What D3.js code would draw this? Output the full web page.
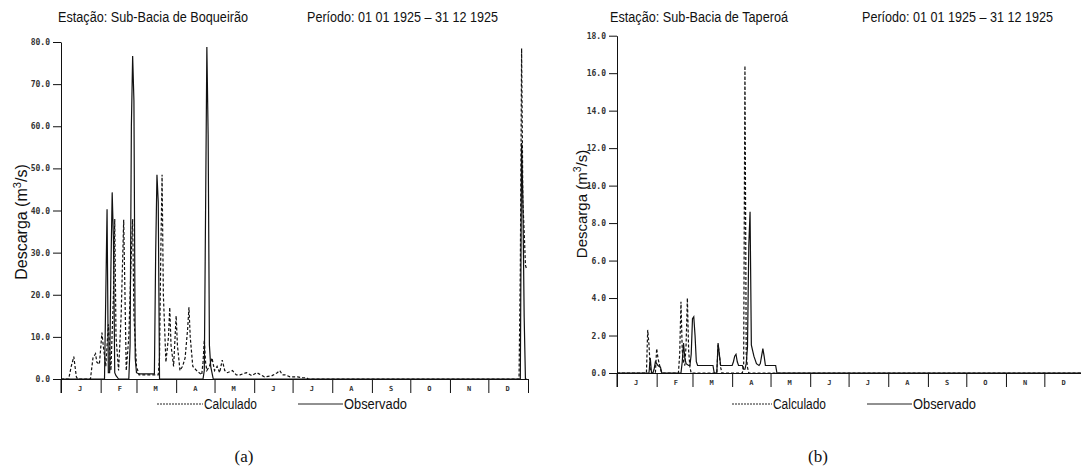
<!DOCTYPE html>
<html>
<head>
<meta charset="utf-8">
<script src="https://cdn.jsdelivr.net/npm/d3@7"></script>
<style>
  body { margin: 0; background: #fff; }
  svg text { fill: #111; }
</style>
</head>
<body>
<svg id="chart" width="1081" height="472"></svg>
<script>
// month labels
const months = ['J', 'F', 'M', 'A', 'M', 'J', 'J', 'A', 'S', 'O', 'N', 'D'];
const periodo = 'Período: 01 01 1925 – 31 12 1925';

// (a) Sub-Bacia de Boqueirão: [dia do ano, descarga m3/s]
const boqTicks = [0, 10, 20, 30, 40, 50, 60, 70, 80];
const boqCalc = [
  [1,0],[7,0],[9,3],[11,5.3],[13,0.5],[14,0],[24,0],[26,5],[28,6],[29,4],[31,3.5],[33,11],[34,8],
  [36,3],[38,13],[40,2],[42,20],[43,38],[44,10],[46,2],[48,15],[50,37.8],[51,20],[52,2],[54,10],
  [56,30],[57,38],[58,15],[60,3],[62,1],[77,1],[78,5],[79,30],[80,48.5],[81,20],[83,4],[85,10],
  [86,17],[87,8],[89,3],[91,15],[92,8],[94,2],[96,3],[98,5],[100,12],[101,17],[102,10],[104,3],
  [107,2],[111,1],[112,4],[113,9.3],[114,4],[115,2],[117,3],[119,5],[121,2],[123,3],[125,1.5],
  [127,4.5],[129,2],[131,1.5],[135,2],[138,1],[141,1],[146,1.5],[150,0.8],[154,1.5],[160,0.5],
  [166,0.8],[170,1.5],[172,2],[174,1],[176,1],[180,0.5],[186,0.5],[190,0.3],[193,0.3],[194,0],
  [359,0],[360,26],[361,78.5],[362,42],[363,35],[364,27],[365,26]
];
const boqObs = [
  [1,0],[35,0],[36,20],[37,40.3],[38,1.5],[39,1.5],[40,26],[41,44.3],[42,33],[43,1.5],[44,0.8],
  [46,0],[54,0],[55,8],[56,60],[57,76.7],[58,66],[59,5],[60,1.5],[62,1.2],[74,1.2],[75,30],
  [76,48.5],[77,42],[78,0],[112,0],[113,2],[114,40],[115,78.8],[116,58],[117,8],[118,3],[120,0],
  [360,0],[361,56],[362,42],[363,14.8],[364,0],[365,0]
];

// (b) Sub-Bacia de Taperoá
const tapTicks = [0, 2, 4, 6, 8, 10, 12, 14, 16, 18];
const tapCalc = [
  [1,0],[24,0],[25,2.3],[26,1.5],[27,0.2],[28,0],[31,0],[32,1.3],[33,0.8],[34,0.5],[35,0.2],[36,0],
  [49,0],[50,1.0],[51,3.8],[52,1.2],[53,0.6],[54,0.4],[55,1.5],[56,4.0],[57,1.2],[58,0.3],[59,0],
  [79,0],[80,1.5],[81,1.0],[82,0.3],[83,0],[99,0],[100,0.5],[101,16.4],[102,1.0],[103,0.3],[104,0],
  [365,0]
];
const tapObs = [
  [1,0],[26,0],[27,0.8],[28,0],[29,0],[30,0.2],[31,0.6],[32,0.5],[33,0.4],[34,0.35],[35,0.3],[36,0],
  [51,0],[52,0.6],[53,1.6],[54,0.8],[55,0.5],[57,0.4],[58,0.4],[59,1.0],[60,2.9],[61,3.0],[62,2.0],
  [63,0.6],[64,0.4],[76,0.4],[77,0],[79,0],[80,1.6],[81,1.0],[82,0.4],[91,0.4],[92,0.6],[93,0.9],
  [94,1.0],[95,0.6],[96,0.4],[99,0.4],[100,0.2],[101,0.2],[102,0.5],[103,1.4],[104,6.8],[105,8.6],
  [106,1.5],[107,1.2],[108,0.9],[109,0.7],[110,0.5],[112,0.4],[113,0.5],[114,0.9],[115,1.3],
  [116,0.9],[117,0.4],[125,0.4],[126,0],[365,0]
];

const svg = d3.select('#chart');
const day = d => new Date(1925, 0, d);

function drawPanel(p) {
  var x = d3.scaleTime()
    .domain([new Date(1925, 0, 1), new Date(1926, 0, 1)])
    .range([p.x0, p.x0 + 467]);
  var y = d3.scaleLinear()
    .domain([0, p.ymax])
    .range([p.y0, p.ytop]);
  var g = svg.append('g');

  // titulos
  g.append('text').attr('x', p.titleX).attr('y', 22)
    .attr('font-family', 'Liberation Sans, Arial').attr('font-size', 14)
    .attr('textLength', p.titleW).attr('lengthAdjust', 'spacingAndGlyphs')
    .text(p.title);
  g.append('text').attr('x', p.perX).attr('y', 22)
    .attr('font-family', 'Liberation Sans, Arial').attr('font-size', 14)
    .attr('textLength', 191).attr('lengthAdjust', 'spacingAndGlyphs')
    .text(periodo);

  // eixo y
  var yAxis = d3.axisLeft(y).tickValues(p.ticks).tickSize(8).tickSizeOuter(0)
    .tickFormat(d3.format('.1f'));
  var ya = g.append('g').attr('transform', 'translate(' + p.x0 + ',0)').call(yAxis);
  ya.select('.domain').attr('stroke', '#111');
  ya.selectAll('.tick line').attr('stroke', '#111');
  ya.selectAll('.tick text')
    .attr('font-family', 'DejaVu Sans Mono').attr('font-weight', 'bold')
    .attr('font-size', 8).attr('x', -11).style('fill', '#333');
  g.append('line').attr('x1', p.x0).attr('x2', p.x0)
    .attr('y1', p.y0).attr('y2', p.y0 + 14).attr('stroke', '#111');

  // eixo x
  var xAxis = d3.axisBottom(x).ticks(d3.timeMonth.every(1)).tickSize(14)
    .tickSizeOuter(0).tickFormat('');
  var xa = g.append('g').attr('transform', 'translate(0,' + p.y0 + ')').call(xAxis);
  xa.select('.domain').attr('stroke', '#111');
  xa.selectAll('.tick line').attr('stroke', '#111');
  g.selectAll('.mlabel').data(months).enter().append('text')
    .attr('x', (d, i) => x(new Date(1925, i, 16)))
    .attr('y', p.y0 + 12)
    .attr('text-anchor', 'middle')
    .attr('font-family', 'DejaVu Sans Mono').attr('font-weight', 'bold')
    .attr('font-size', 7).style('fill', '#333')
    .text(d => d);

  // rotulo y
  var yl = g.append('text')
    .attr('transform', 'translate(' + p.ylabX + ',' + p.ylabY + ') rotate(-90)')
    .attr('text-anchor', 'middle')
    .attr('font-family', 'Liberation Sans, Arial').attr('font-size', p.ylabSize);
  yl.append('tspan').text('Descarga (m');
  yl.append('tspan').attr('font-size', p.ylabSize * 0.7).attr('dy', -6).text('3');
  yl.append('tspan').attr('dy', 6).text('/s)');

  // series
  var line = d3.line().x(d => x(day(d[0]))).y(d => y(d[1]));
  g.append('path').datum(p.calc).attr('d', line)
    .attr('fill', 'none').attr('stroke', '#111').attr('stroke-width', 1.2)
    .attr('stroke-dasharray', '3,2');
  g.append('path').datum(p.obs).attr('d', line)
    .attr('fill', 'none').attr('stroke', '#111').attr('stroke-width', 1.2);

  // legenda
  var ly = 404;
  g.append('line').attr('x1', p.leg[0]).attr('x2', p.leg[1]).attr('y1', ly).attr('y2', ly)
    .attr('stroke', '#222').attr('stroke-dasharray', '2,1');
  g.append('text').attr('x', p.leg[1] + 1).attr('y', ly + 5)
    .attr('font-family', 'Liberation Sans, Arial').attr('font-size', 14)
    .attr('textLength', p.leg[2]).attr('lengthAdjust', 'spacingAndGlyphs')
    .text('Calculado');
  g.append('line').attr('x1', p.leg[3]).attr('x2', p.leg[4]).attr('y1', ly).attr('y2', ly)
    .attr('stroke', '#222');
  g.append('text').attr('x', p.leg[4] + 1).attr('y', ly + 5)
    .attr('font-family', 'Liberation Sans, Arial').attr('font-size', 14)
    .attr('textLength', p.leg[5]).attr('lengthAdjust', 'spacingAndGlyphs')
    .text('Observado');

  // legenda da figura
  g.append('text').attr('x', p.capX).attr('y', 462).attr('text-anchor', 'middle')
    .attr('font-family', 'Liberation Serif, Times New Roman').attr('font-size', 17)
    .text(p.cap);
}

drawPanel({
  x0: 61, y0: 379, ytop: 42, ymax: 80, ticks: boqTicks,
  calc: boqCalc, obs: boqObs,
  title: 'Estação: Sub-Bacia de Boqueirão', titleX: 58, titleW: 190, perX: 307,
  ylabX: 27, ylabY: 222, ylabSize: 16,
  leg: [157, 203, 53, 298, 343, 63],
  capX: 244, cap: '(a)'
});
drawPanel({
  x0: 617, y0: 373, ytop: 35.7, ymax: 18, ticks: tapTicks,
  calc: tapCalc, obs: tapObs,
  title: 'Estação: Sub-Bacia de Taperoá', titleX: 610, titleW: 178, perX: 862,
  ylabX: 587, ylabY: 204, ylabSize: 15,
  leg: [732, 772, 53, 867, 912, 63],
  capX: 818, cap: '(b)'
});
</script>
</body>
</html>
